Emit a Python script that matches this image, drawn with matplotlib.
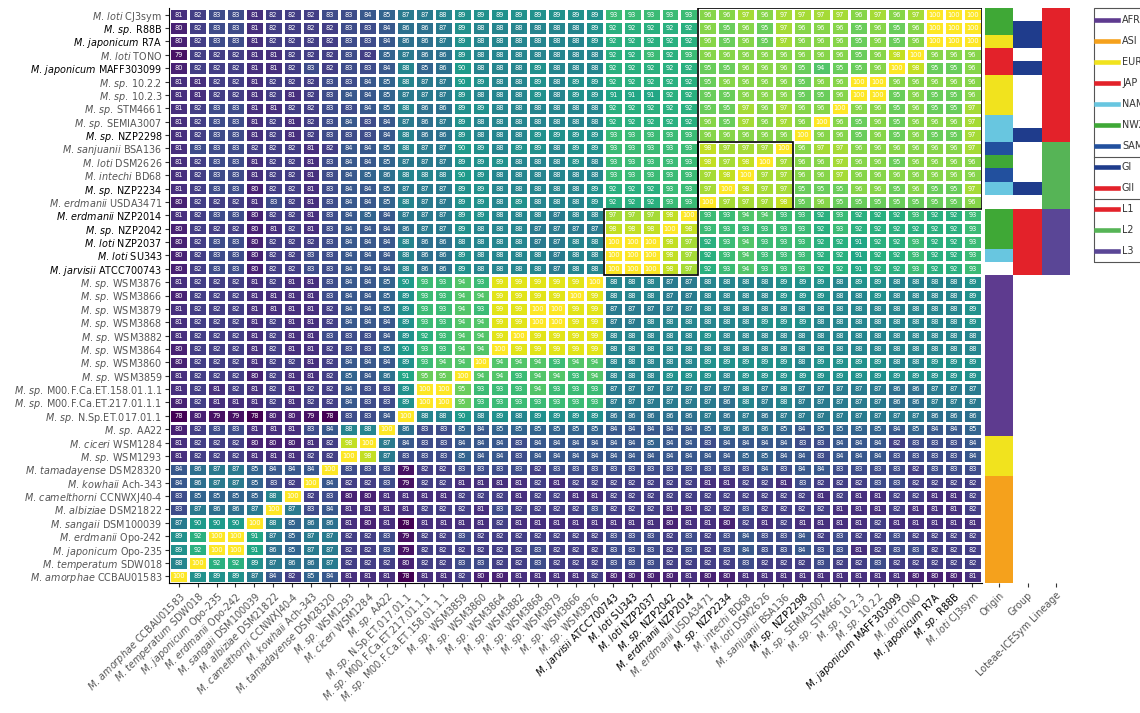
import numpy as np
import matplotlib.pyplot as plt
from matplotlib.colors import to_rgba
from matplotlib.patches import Rectangle
from matplotlib.lines import Line2D

# strains, top to bottom (rows)
rows = [
    "M. loti CJ3sym", "M. sp. R88B", "M. japonicum R7A", "M. loti TONO",
    "M. japonicum MAFF303099", "M. sp. 10.2.2", "M. sp. 10.2.3", "M. sp. STM4661",
    "M. sp. SEMIA3007", "M. sp. NZP2298", "M. sanjuanii BSA136", "M. loti DSM2626",
    "M. intechi BD68", "M. sp. NZP2234", "M. erdmanii USDA3471", "M. erdmanii NZP2014",
    "M. sp. NZP2042", "M. loti NZP2037", "M. loti SU343", "M. jarvisii ATCC700743",
    "M. sp. WSM3876", "M. sp. WSM3866", "M. sp. WSM3879", "M. sp. WSM3868",
    "M. sp. WSM3882", "M. sp. WSM3864", "M. sp. WSM3860", "M. sp. WSM3859",
    "M. sp. M00.F.Ca.ET.158.01.1.1", "M. sp. M00.F.Ca.ET.217.01.1.1", "M. sp. N.Sp.ET.017.01.1",
    "M. sp. AA22", "M. ciceri WSM1284", "M. sp. WSM1293", "M. tamadayense DSM28320",
    "M. kowhaii Ach-343", "M. camelthorni CCNWXJ40-4", "M. albiziae DSM21822",
    "M. sangaii DSM100039", "M. erdmanii Opo-242", "M. japonicum Opo-235",
    "M. temperatum SDW018", "M. amorphae CCBAU01583",
]

# strains, left to right (columns)
cols = [
    "M. amorphae CCBAU01583", "M. temperatum SDW018", "M. japonicum Opo-235",
    "M. erdmanii Opo-242", "M. sangaii DSM100039", "M. albiziae DSM21822",
    "M. camelthorni CCNWXJ40-4", "M. kowhaii Ach-343", "M. tamadayense DSM28320",
    "M. sp. WSM1293", "M. ciceri WSM1284", "M. sp. AA22", "M. sp. N.Sp.ET.017.01.1",
    "M. sp. M00.F.Ca.ET.217.01.1.1", "M. sp. M00.F.Ca.ET.158.01.1.1", "M. sp. WSM3859",
    "M. sp. WSM3860", "M. sp. WSM3864", "M. sp. WSM3882", "M. sp. WSM3868",
    "M. sp. WSM3879", "M. sp. WSM3866", "M. sp. WSM3876", "M. jarvisii ATCC700743",
    "M. loti SU343", "M. loti NZP2037", "M. sp. NZP2042", "M. erdmanii NZP2014",
    "M. erdmanii USDA3471", "M. sp. NZP2234", "M. intechi BD68", "M. loti DSM2626",
    "M. sanjuanii BSA136", "M. sp. NZP2298", "M. sp. SEMIA3007", "M. sp. STM4661",
    "M. sp. 10.2.3", "M. sp. 10.2.2", "M. japonicum MAFF303099", "M. loti TONO",
    "M. japonicum R7A", "M. sp. R88B", "M. loti CJ3sym",
]

# strains written in black in the figure
highlight = [
    "M. sp. R88B", "M. japonicum R7A", "M. japonicum MAFF303099", "M. sp. NZP2298",
    "M. sp. NZP2234", "M. erdmanii NZP2014", "M. sp. NZP2042", "M. loti NZP2037",
    "M. loti SU343", "M. jarvisii ATCC700743",
]

ani = [
    [81,82,83,83,81,82,82,82,83,83,84,85,87,87,88, 89,89,89,89,89,89,89,89,93,93,93,93,93, 96,96,97,96,97,97,97,97,96,97,96,97,100,100,100],
    [80,82,83,83,81,82,82,82,82,83,83,84,86,86,87, 89,88,88,88,88,88,88,89,92,92,92,92,92, 96,95,96,95,97,96,96,96,95,96,95,96,100,100,100],
    [80,82,83,83,81,82,82,82,82,83,83,84,86,86,87, 89,88,88,88,88,88,88,89,92,92,92,92,92, 96,95,96,95,97,96,96,96,95,96,95,96,100,100,100],
    [79,82,82,82,81,81,82,82,82,83,82,85,87,86,86, 89,88,88,88,88,88,88,88,92,92,93,92,93, 96,96,96,96,96,96,96,96,95,96,98,100,96,96,96],
    [80,82,82,82,81,81,82,83,82,83,83,84,88,85,86, 90,88,88,88,89,88,88,88,92,92,92,92,92, 95,95,96,96,96,95,94,95,95,96,100,98,95,95,96],
    [81,81,82,82,81,82,82,82,83,83,84,85,88,87,87, 90,89,88,88,89,88,89,89,92,92,92,92,92, 95,96,96,96,96,95,96,96,100,100,96,96,96,96,96],
    [81,81,82,82,81,82,81,82,83,84,84,85,87,87,87, 89,88,88,88,89,88,89,89,91,91,91,92,92, 95,95,96,96,96,95,95,96,100,100,95,96,95,95,96],
    [81,82,83,83,81,81,82,82,83,83,84,85,88,86,86, 89,89,88,88,88,88,88,88,92,92,92,92,92, 95,95,97,96,97,96,96,100,96,96,95,96,95,95,97],
    [81,82,83,83,81,82,81,82,83,84,83,84,87,86,87, 89,88,88,88,88,88,88,88,92,92,92,92,92, 96,95,97,96,97,96,100,96,95,96,95,96,96,96,97],
    [81,82,83,83,81,82,81,82,83,83,83,84,88,86,86, 89,88,88,88,89,89,89,89,93,93,93,93,93, 96,96,96,96,96,100,96,96,95,96,95,96,95,95,97],
    [81,83,83,83,82,82,82,81,82,84,84,85,88,87,87, 90,89,88,89,89,88,89,89,93,93,93,93,93, 98,97,97,97,100,96,97,97,96,96,96,96,96,96,97],
    [81,82,83,83,81,82,82,81,83,84,84,85,87,87,87, 89,89,89,88,88,88,89,88,93,93,93,93,93, 98,97,98,100,97,96,96,97,96,96,95,96,96,96,96],
    [81,82,83,83,81,82,82,81,83,84,85,86,88,88,88, 90,89,88,88,88,88,88,88,93,93,93,93,93, 97,98,100,97,97,96,96,97,96,96,96,96,96,96,96],
    [81,82,83,83,80,82,82,81,83,84,84,85,87,87,87, 89,89,88,88,88,88,88,89,92,92,92,93,93, 97,100,98,97,97,95,95,95,96,96,95,96,95,95,97],
    [80,82,82,82,81,83,82,81,83,84,84,85,88,87,87, 89,89,88,89,88,88,88,89,92,92,92,93,93, 100,97,97,97,98,95,96,95,95,95,95,95,95,95,96],
    [81,82,83,83,80,82,82,81,83,84,85,84,87,87,87, 89,89,88,88,88,87,88,88,97,97,97,98,100, 93,93,94,94,93,93,92,93,92,92,92,93,92,92,93],
    [80,82,82,82,80,81,82,81,83,84,84,84,86,87,87, 89,88,88,88,87,87,87,87,98,98,98,100,98, 93,93,93,93,93,93,92,93,92,92,92,92,92,92,93],
    [80,82,83,83,80,82,82,82,83,84,84,84,88,86,86, 88,88,88,88,87,87,88,88,100,100,100,98,97, 92,93,94,93,93,93,92,92,91,92,92,93,92,92,93],
    [80,82,83,83,80,82,82,83,83,84,84,84,88,86,86, 89,88,88,88,88,87,88,88,100,100,100,98,97, 92,93,94,93,93,93,92,92,91,92,92,93,92,92,93],
    [80,82,83,83,80,82,82,83,83,84,84,84,88,86,86, 89,88,88,88,88,87,88,88,100,100,100,98,97, 92,93,94,93,93,93,92,92,91,92,92,93,92,92,93],
    [81,82,82,82,81,82,81,81,83,84,84,85,90,93,93, 94,93,99,99,99,99,99,100,88,88,88,87,87, 88,88,88,88,89,89,89,88,89,89,88,88,88,88,89],
    [80,82,82,82,81,81,81,81,83,84,84,85,89,93,93, 94,94,99,99,99,99,100,99,88,88,88,87,87, 88,88,88,88,89,89,89,88,88,89,88,88,88,88,89],
    [81,82,82,82,81,81,81,81,82,84,84,85,89,93,93, 94,93,99,99,100,100,99,99,87,87,87,87,87, 88,88,88,88,88,88,88,88,88,88,88,88,88,88,89],
    [81,82,82,82,81,82,81,81,82,84,84,84,89,93,93, 94,94,99,99,100,100,99,99,87,87,88,88,88, 88,88,88,89,89,89,88,88,88,88,88,88,88,88,89],
    [81,82,82,82,81,82,81,81,83,83,83,84,89,92,93, 94,94,99,100,99,99,99,99,88,88,88,88,88, 89,88,88,88,88,88,88,88,88,88,88,88,88,88,88],
    [80,82,82,82,81,82,81,81,82,83,83,85,90,93,93, 94,94,100,99,99,99,99,99,88,88,88,88,88, 88,88,88,88,88,88,88,88,88,88,88,88,88,88,88],
    [80,82,82,82,81,82,82,81,82,84,84,84,89,93,94, 94,100,94,94,94,93,94,94,88,88,88,88,88, 89,89,89,89,89,88,89,89,89,89,88,88,89,89,89],
    [81,82,82,82,80,82,81,81,82,85,84,86,91,95,95, 100,94,94,93,94,94,93,94,88,88,88,89,89, 89,88,89,89,89,89,89,89,89,89,89,89,89,89,89],
    [81,82,81,82,81,82,81,82,82,84,83,83,89,100,100, 95,93,93,93,94,93,93,93,87,87,87,87,87, 87,87,88,87,88,87,87,87,87,87,86,86,87,87,87],
    [80,82,81,81,81,82,81,82,82,84,83,83,89,100,100, 95,93,93,93,93,93,93,93,87,87,87,87,87, 87,86,88,87,88,87,87,87,87,87,86,86,87,87,87],
    [78,80,79,79,78,80,80,79,78,83,83,84,100,88,88, 90,88,89,88,89,89,89,89,86,86,86,86,86, 87,86,87,86,87,87,87,87,87,87,87,87,86,86,86],
    [80,82,83,83,81,81,81,83,84,88,88,100,86,83,83, 85,84,85,85,85,85,85,85,84,84,84,84,84, 85,86,86,86,85,84,85,85,85,85,84,85,84,84,85],
    [81,82,82,82,80,80,80,81,82,98,100,87,84,83,83, 84,84,84,83,84,84,84,84,84,84,85,84,84, 83,84,84,84,84,83,83,84,84,84,82,83,83,83,84],
    [81,82,82,82,81,81,81,82,82,100,98,87,83,83,83, 85,84,84,83,84,84,84,84,84,84,84,84,84, 84,84,85,85,84,84,83,84,84,84,83,83,83,83,84],
    [84,86,87,87,85,84,84,84,100,83,83,83,79,82,82, 83,83,83,83,82,83,83,83,83,83,83,83,83, 83,83,83,84,83,84,84,83,83,83,83,82,83,83,83],
    [84,86,87,87,85,83,82,100,84,82,82,83,79,82,82, 81,81,81,81,82,81,82,82,82,82,82,82,82, 81,81,82,82,81,83,82,82,82,83,83,82,82,82,82],
    [83,85,85,85,85,88,100,82,83,80,80,81,81,81,81, 82,82,82,81,82,82,81,81,82,82,82,82,82, 82,82,82,82,82,82,81,82,81,81,82,82,81,81,82],
    [83,87,86,86,87,100,87,83,84,81,81,81,81,82,82, 82,81,83,82,82,82,82,83,82,82,82,81,81, 82,82,83,82,82,82,82,81,81,81,82,81,81,81,82],
    [87,90,90,90,100,88,85,86,86,81,80,81,78,81,81, 81,81,82,81,81,81,81,81,81,81,81,80,81, 81,80,82,81,82,81,81,81,81,82,81,81,81,81,81],
    [89,92,100,100,91,87,85,87,87,82,82,83,79,82,82, 83,82,82,82,82,82,82,82,83,83,83,82,83, 82,83,84,83,83,84,82,83,82,82,83,82,82,82,82],
    [89,92,100,100,91,86,85,87,87,82,82,83,79,82,82, 82,82,82,82,83,82,82,82,83,83,83,82,83, 82,83,84,83,83,84,83,83,81,82,83,83,82,82,82],
    [88,100,92,92,89,87,86,86,87,82,82,82,80,82,82, 83,83,82,82,83,82,82,82,83,83,83,82,82, 82,82,83,82,82,82,83,82,82,83,82,82,82,82,82],
    [100,89,89,89,87,84,82,85,84,81,81,81,78,81,81, 82,80,80,81,81,81,81,82,80,80,80,80,81, 80,80,81,81,81,81,81,81,81,81,81,80,80,80,81],
]

# row annotations
origin = ["NWZ", "NWZ", "EUR", "JAP", "JAP", "EUR", "EUR", "EUR", "NAM", "NAM",
          "SAM", "NWZ", "SAM", "NAM", None, "NWZ", "NWZ", "NWZ", "NAM", None] \
         + ["AFR"] * 12 + ["EUR"] * 3 + ["ASI"] * 8
group = [None, "GI", "GI", None, "GI", None, None, None, None, "GI",
         None, None, None, "GI", None] + ["GII"] * 5 + [None] * 23
lineage = ["L1"] * 10 + ["L2"] * 5 + ["L3"] * 5 + [None] * 23

origin_colors = {"AFR": "#5e3b8f", "ASI": "#f5a11c", "EUR": "#f1e31e", "JAP": "#e3222a",
                 "NAM": "#68c6e0", "NWZ": "#3fa836", "SAM": "#22509e"}
group_colors = {"GI": "#1f3c8c", "GII": "#e3222a"}
lineage_colors = {"L1": "#e3222a", "L2": "#56b456", "L3": "#5a4696"}

mat = np.array(ani)
n = len(rows)

W, H = 1140, 713
fig = plt.figure(figsize=(W / 100, H / 100), dpi=100)
LABEL_FS = 6.9


def italic_label(name):
    # genus + epithet in italics, strain upright, all inside one mathtext run;
    # mathtext pads after a '.', the \! takes that back
    parts = name.split(" ")
    head = r"\ ".join(parts[:2]).replace(".", r".\!")
    return r"$\mathit{" + head + r"}\ \text{" + " ".join(parts[2:]) + "}$"


ax = fig.add_axes([169.3 / W, 1 - 583 / H, 812.4 / W, 575 / H])
ax.pcolormesh(mat, cmap="viridis", vmin=78, vmax=100, edgecolors="white", linewidth=0.9)
ax.set_xlim(0, n)
ax.set_ylim(n, 0)

for i in range(n):
    for j in range(n):
        ax.text(j + 0.5, i + 0.5, str(mat[i, j]), ha="center", va="center",
                fontsize=4.8, color="white")

# outline the lineage blocks
for block in [("L1", "L2"), ("L2",), ("L3",)]:
    idx = [i for i, l in enumerate(lineage) if l in block]
    cidx = [cols.index(rows[i]) for i in idx]
    ax.add_patch(Rectangle((min(cidx), min(idx)), max(cidx) - min(cidx) + 1,
                           max(idx) - min(idx) + 1, fill=False, ec="black", lw=1.2))

ax.set_xticks(np.arange(n) + 0.5)
ax.set_xticklabels([italic_label(c) for c in cols], rotation=45, ha="right",
                   rotation_mode="anchor", fontsize=LABEL_FS)
ax.set_yticks(np.arange(n) + 0.5)
ax.set_yticklabels([italic_label(r) for r in rows], fontsize=LABEL_FS)
for lab, name in zip(ax.get_xticklabels(), cols):
    lab.set_color("black" if name in highlight else "#555555")
for lab, name in zip(ax.get_yticklabels(), rows):
    lab.set_color("black" if name in highlight else "#555555")
ax.tick_params(length=3, width=0.8, color="#333333", pad=2)
ax.spines["top"].set_visible(False)
ax.spines["right"].set_visible(False)

# annotation columns
ax2 = fig.add_axes([985 / W, 1 - 583 / H, 85 / W, 575 / H])
rgba = np.ones((n, 3, 4))
for i in range(n):
    for k, (vals, cmap) in enumerate([(origin, origin_colors), (group, group_colors),
                                      (lineage, lineage_colors)]):
        if vals[i] is not None:
            rgba[i, k] = to_rgba(cmap[vals[i]])
ax2.imshow(rgba, aspect="auto", extent=(0, 3, n, 0), interpolation="nearest")
ax2.set_xticks([0.5, 1.5, 2.5])
ax2.set_xticklabels(["Origin", "Group", "Loteae-ICESym Lineage"], rotation=45,
                    ha="right", rotation_mode="anchor", fontsize=LABEL_FS, color="#555555")
ax2.set_yticks([])
ax2.tick_params(axis="x", length=3, width=0.8, color="#333333", pad=2)
for s in ax2.spines.values():
    s.set_visible(False)

# legend, drawn by hand so the three sections share one frame
sections = [list(origin_colors.items()), list(group_colors.items()), list(lineage_colors.items())]
y = 20
step = 21
fig.add_artist(Rectangle((1093.5 / W, 1 - 262 / H), 80 / W, 254 / H, fill=False,
                         ec="#555555", lw=0.8, transform=fig.transFigure))
for si, sec in enumerate(sections):
    for label, color in sec:
        fig.add_artist(Line2D([1096 / W, 1118 / W], [1 - y / H, 1 - y / H], lw=3.3,
                              color=color, transform=fig.transFigure))
        fig.text(1122 / W, 1 - y / H, label, fontsize=LABEL_FS, va="center", color="#333333")
        y += step
    if si < len(sections) - 1:
        ysep = y - step / 2
        fig.add_artist(Line2D([1093.5 / W, 1.0], [1 - ysep / H, 1 - ysep / H], lw=0.8,
                              color="#555555", transform=fig.transFigure))

fig.savefig("out.png", dpi=100)
